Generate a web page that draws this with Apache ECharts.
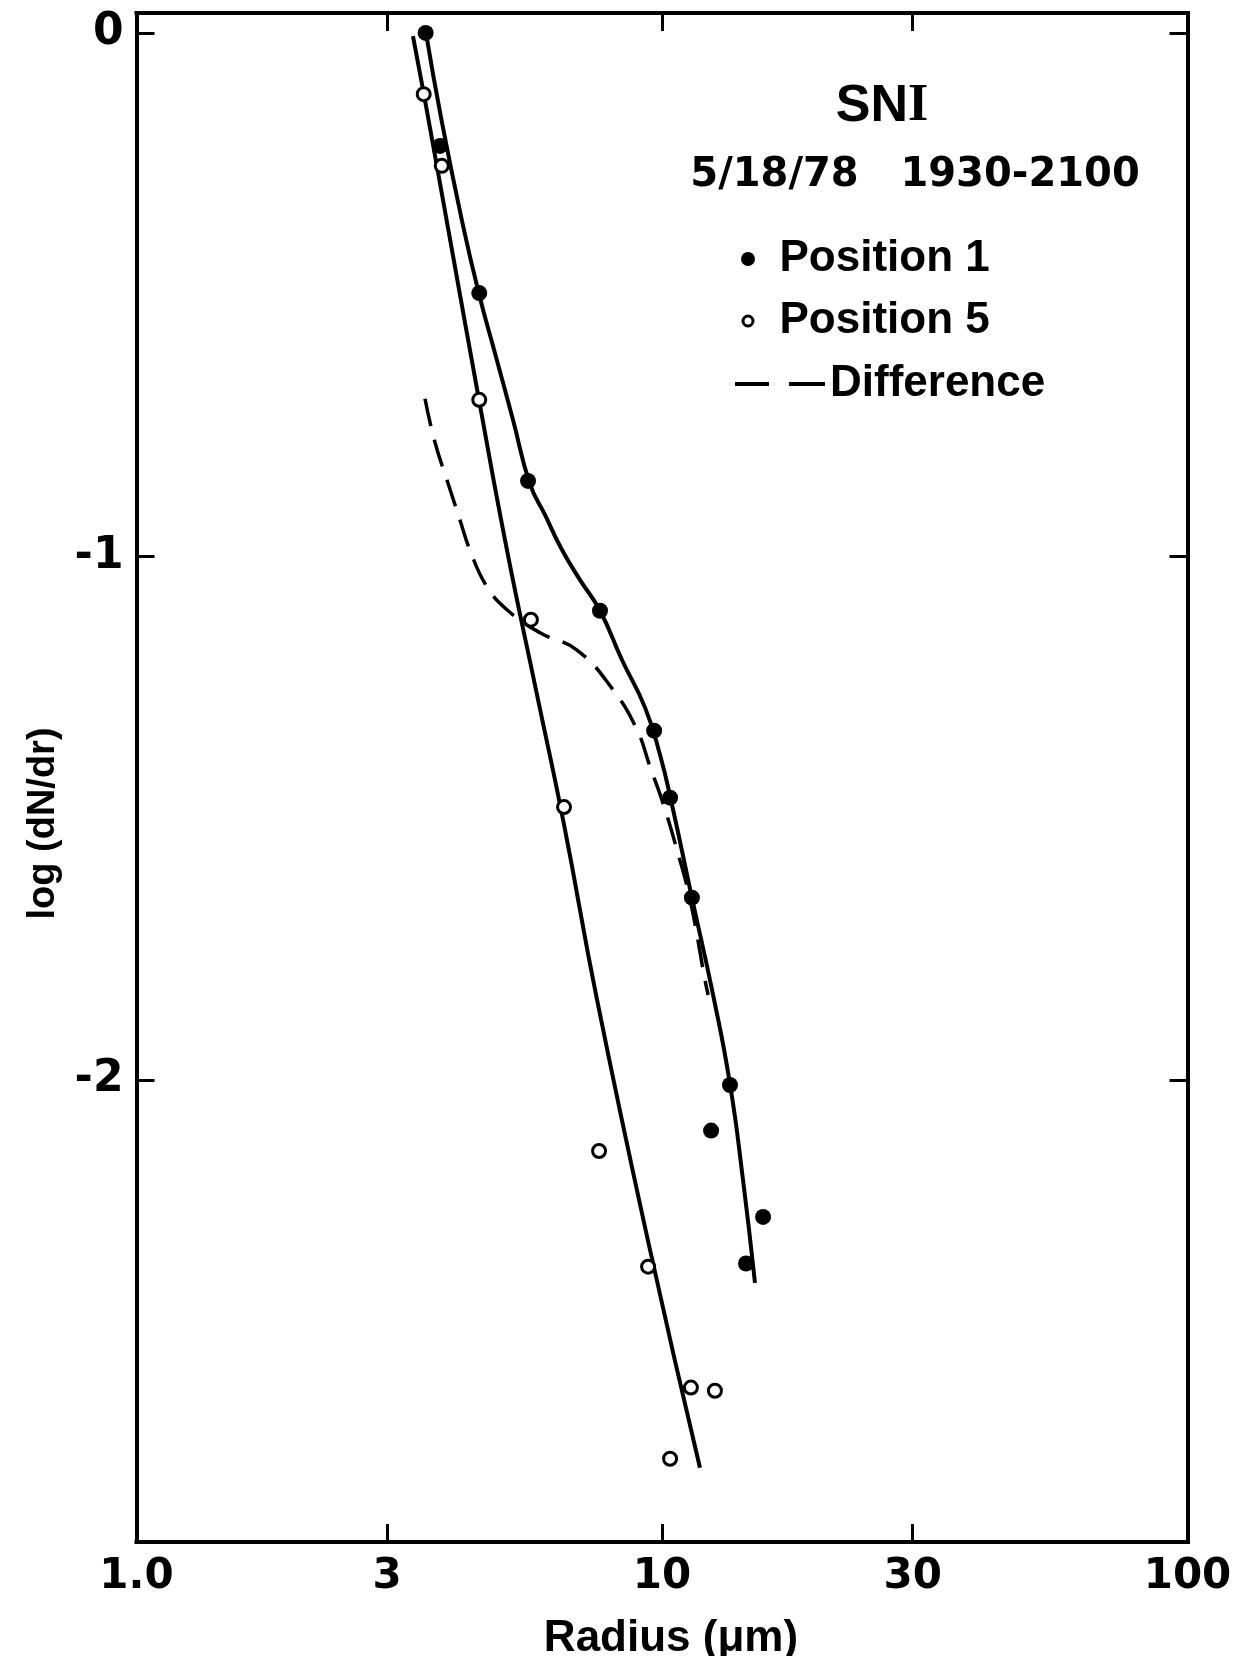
<!DOCTYPE html>
<html>
<head>
<meta charset="utf-8">
<script src="https://cdn.jsdelivr.net/npm/echarts@6/dist/echarts.min.js"></script>
<style>
  html, body { margin: 0; padding: 0; background: #ffffff; }
  #chart { width: 1235px; height: 1656px; }
</style>
</head>
<body>
<div id="chart"></div>
<script>
// Droplet size distribution, SNI 5/18/78 1930-2100

// Axis ticks and their labels
const xTickValues = [1, 3, 10, 30, 100];
const xTickLabels = ['1.0', '3', '10', '30', '100'];
const xInnerTicks = [3, 10, 30];
const yTickValues = [0, -1, -2];
const yTickLabels = ['0', '-1', '-2'];

// Position 1 (filled dots): radius in µm, log(dN/dr)
const pos1Radius = [3.55, 3.78, 4.49, 5.56, 7.62, 9.66, 10.36, 11.40, 13.47, 12.40, 15.57, 14.45];
const pos1LogDNdr = [0.00, -0.216, -0.497, -0.856, -1.104, -1.333, -1.461, -1.652, -2.010, -2.097, -2.262, -2.351];

// Position 5 (open circles)
const pos5Radius = [3.52, 3.81, 4.49, 5.63, 6.51, 7.59, 9.41, 11.35, 12.61, 10.36];
const pos5LogDNdr = [-0.117, -0.254, -0.701, -1.121, -1.479, -2.136, -2.357, -2.588, -2.594, -2.724];

// Smoothed curve through Position 1
const fit1Radius = [3.555, 3.798, 4.163, 4.485, 4.832, 5.205, 5.609, 5.990, 6.424, 6.982, 7.621, 8.393, 9.284, 9.913, 10.45, 11.40, 12.51, 13.47, 14.26, 15.03];
const fit1LogDNdr = [0.0, -0.162, -0.359, -0.499, -0.619, -0.739, -0.862, -0.921, -0.984, -1.045, -1.104, -1.198, -1.289, -1.379, -1.475, -1.652, -1.838, -2.008, -2.191, -2.388];

// Smoothed curve through Position 5
const fit5Radius = [3.358, 3.524, 3.968, 4.485, 5.070, 5.757, 6.511, 7.522, 9.489, 11.81];
const fit5LogDNdr = [-0.006, -0.118, -0.405, -0.701, -0.988, -1.255, -1.513, -1.847, -2.325, -2.741];

// Difference curve (dashed)
const diffRadius = [3.54, 3.70, 3.93, 4.13, 4.31, 4.63, 5.07, 5.86, 6.89, 8.07, 8.96, 9.49, 10.04, 10.68, 11.31, 12.07, 12.24];
const diffLogDNdr = [-0.699, -0.783, -0.865, -0.932, -0.988, -1.056, -1.102, -1.146, -1.179, -1.255, -1.331, -1.402, -1.471, -1.561, -1.656, -1.809, -1.838];

const zip = (xs, ys) => xs.map((x, i) => [x, ys[i]]);

const SANS = '"Liberation Sans", Arial, Helvetica, sans-serif';
const NUM = '"DejaVu Sans", sans-serif';
const INK = '#000000';

function xLabel(v) {
  const i = xTickValues.findIndex(t => Math.abs(t - v) < 1e-6 * t);
  return i >= 0 ? xTickLabels[i] : String(v);
}
function yLabel(v) {
  const i = yTickValues.findIndex(t => Math.abs(t - v) < 1e-6);
  return i >= 0 ? yTickLabels[i] : String(v);
}

const frameLine = { show: true, onZero: false, lineStyle: { color: INK, width: 4, cap: 'square' } };
const tickStyle = { color: INK, width: 3 };

function xAxisDef(position, withLabels) {
  return {
    type: 'log',
    logBase: 10,
    min: 1,
    max: 100,
    position: position,
    axisLine: frameLine,
    axisTick: { show: true, inside: true, length: 18, lineStyle: tickStyle, customValues: xInnerTicks },
    minorTick: { show: false },
    splitLine: { show: false },
    axisLabel: withLabels ? {
      show: true,
      customValues: xTickValues,
      formatter: xLabel,
      margin: 14,
      color: INK,
      fontFamily: NUM,
      fontWeight: 'bold',
      fontSize: 42
    } : { show: false },
    name: withLabels ? 'Radius (μm)' : '',
    nameLocation: 'middle',
    nameGap: 75,
    nameTextStyle: { color: INK, fontFamily: SANS, fontWeight: 'bold', fontSize: 44, padding: [0, 0, 0, 18] }
  };
}

function yAxisDef(position, withLabels) {
  return {
    type: 'value',
    min: -2.883,
    max: 0.038,
    position: position,
    axisLine: frameLine,
    axisTick: { show: true, inside: true, length: 18, lineStyle: tickStyle, customValues: yTickValues },
    splitLine: { show: false },
    axisLabel: withLabels ? {
      show: true,
      customValues: yTickValues,
      formatter: yLabel,
      margin: 13,
      color: INK,
      fontFamily: NUM,
      fontWeight: 'bold',
      fontSize: 44
    } : { show: false },
    name: withLabels ? 'log (dN/dr)' : '',
    nameLocation: 'middle',
    nameGap: 74,
    nameTextStyle: { color: INK, fontFamily: SANS, fontWeight: 'bold', fontSize: 38, padding: [0, 92, 0, 0] }
  };
}

const legendText = { color: INK, fontFamily: SANS, fontWeight: 'bold', fontSize: 44, lineHeight: 44 };

const option = {
  animation: false,
  backgroundColor: '#ffffff',
  grid: { left: 136.5, right: 47.5, top: 13, bottom: 114, outerBoundsMode: 'none' },
  xAxis: [xAxisDef('bottom', true), xAxisDef('top', false)],
  yAxis: [yAxisDef('left', true), yAxisDef('right', false)],
  legend: [
    {
      data: [{ name: 'Position 1', icon: 'circle' }],
      left: 741, top: 237, padding: 0,
      itemWidth: 53, itemHeight: 14,
      itemStyle: { color: INK, borderWidth: 0, opacity: 1 },
      textStyle: legendText, selectedMode: false
    },
    {
      data: [{ name: 'Position 5', icon: 'circle' }],
      left: 741.5, top: 299, padding: 0,
      itemWidth: 53, itemHeight: 10,
      itemStyle: { color: '#ffffff', borderColor: INK, borderWidth: 3, opacity: 1 },
      textStyle: legendText, selectedMode: false
    },
    {
      data: [{ name: 'Difference', icon: 'path://M0 0H34V4H0Z M54 0H90V4H54Z' }],
      left: 735, top: 362, padding: 0,
      itemWidth: 90, itemHeight: 4,
      itemStyle: { color: INK, borderWidth: 0, opacity: 1 },
      textStyle: legendText, selectedMode: false
    }
  ],
  graphic: [
    {
      type: 'text', x: 882, y: 107,
      style: {
        text: '{a|SN}{b|I}',
        rich: {
          a: { fontFamily: SANS, fontWeight: 'bold', fontSize: 52, fill: INK },
          b: { fontFamily: '"Liberation Serif", serif', fontWeight: 'bold', fontSize: 52, fill: INK }
        },
        align: 'center', verticalAlign: 'middle', fill: INK
      }
    },
    {
      type: 'text', x: 915, y: 176,
      style: {
        text: '5/18/78   1930-2100',
        fontFamily: NUM, fontWeight: 'bold', fontSize: 40,
        align: 'center', verticalAlign: 'middle', fill: INK
      }
    }
  ],
  series: [
    {
      name: 'Position 1 curve', type: 'line', data: zip(fit1Radius, fit1LogDNdr),
      smooth: 0.5, symbol: 'none', z: 2,
      lineStyle: { color: INK, width: 4 }
    },
    {
      name: 'Position 5 curve', type: 'line', data: zip(fit5Radius, fit5LogDNdr),
      smooth: 0.5, symbol: 'none', z: 2,
      lineStyle: { color: INK, width: 4 }
    },
    {
      name: 'Difference', type: 'line', data: zip(diffRadius, diffLogDNdr),
      smooth: 0.45, symbol: 'none', z: 2,
      lineStyle: { color: INK, width: 3.5, type: [28, 14] }
    },
    {
      name: 'Position 5', type: 'scatter', data: zip(pos5Radius, pos5LogDNdr),
      symbol: 'circle', symbolSize: 13, z: 3,
      itemStyle: { color: '#ffffff', borderColor: INK, borderWidth: 3, opacity: 1 }
    },
    {
      name: 'Position 1', type: 'scatter', data: zip(pos1Radius, pos1LogDNdr),
      symbol: 'circle', symbolSize: 16, z: 4,
      itemStyle: { color: INK, opacity: 1 }
    }
  ]
};

const chart = echarts.init(document.getElementById('chart'), null, { renderer: 'canvas' });
chart.setOption(option);
</script>
</body>
</html>
